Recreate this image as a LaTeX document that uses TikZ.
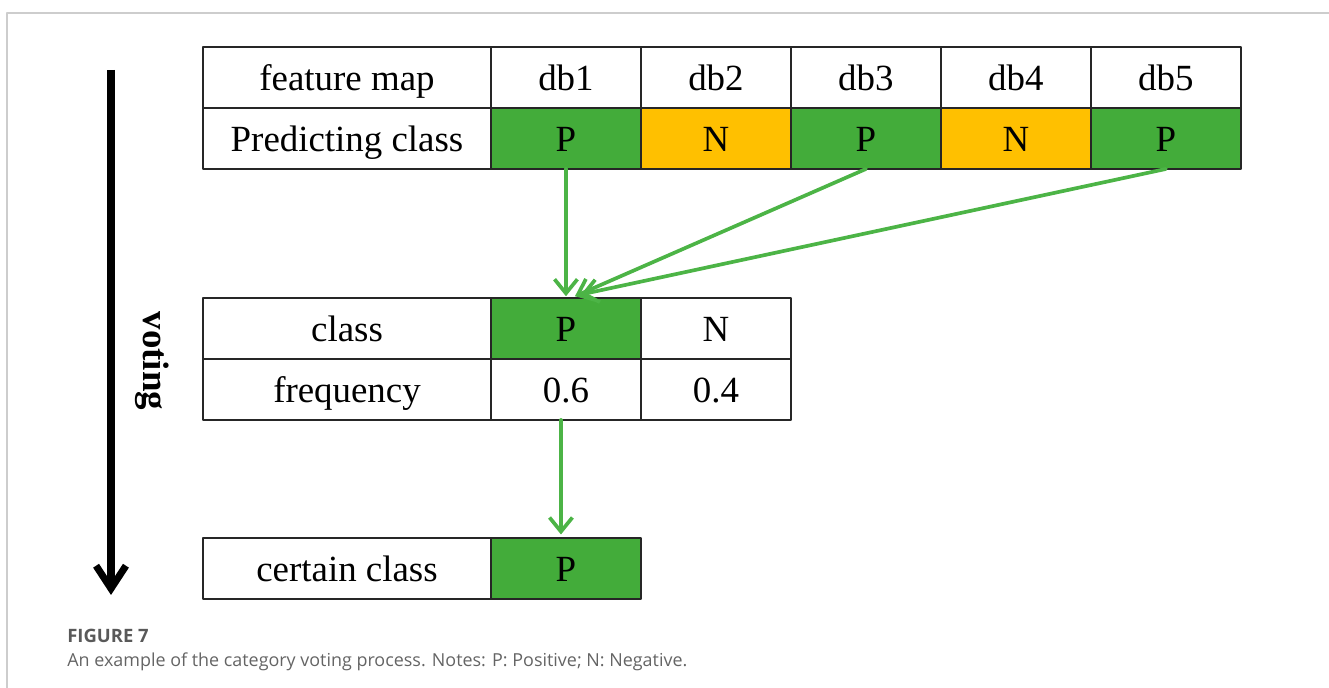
\documentclass[tikz,border=0pt]{standalone}
\usepackage{fontspec}
\setmainfont{Liberation Serif}
\newfontfamily\capfont{Open Sans}
\usetikzlibrary{arrows.meta, positioning}
\definecolor{cellgreen}{RGB}{67,172,58}
\definecolor{cellorange}{RGB}{255,192,0}
\definecolor{arrowgreen}{RGB}{76,180,70}
\definecolor{framegray}{RGB}{205,205,205}
\definecolor{capgray}{RGB}{100,100,100}
\begin{document}
\begin{tikzpicture}[x=0.02cm, y=-0.02cm, line join=round,
    cell/.style={draw=black!85, line width=1pt, minimum height=1.22cm, minimum width=3cm,
        inner sep=0pt, outer sep=0pt, text height=15pt, text depth=0pt,
        font=\fontsize{21}{25}\selectfont},
    head/.style={cell, minimum width=5.76cm},
    poscell/.style={cell, fill=cellgreen},
    negcell/.style={cell, fill=cellorange},
    vote/.style={arrowgreen, line width=2.1pt, line cap=round,
        -{Straight Barb[length=8pt, width=13pt, line width=2.1pt]}},
    captext/.style={anchor=west, text=capgray, inner sep=0pt}]
    \useasboundingbox (0,0) rectangle (1329,688);
    \draw[framegray, line width=0.9pt] (7,688) -- (7,13) -- (1329,13);

    % 特征图预测
    \node[head] (fm) at (347,77.5) {feature map};
    \node[cell, right=0pt of fm] (db1) {db1};
    \node[cell, right=0pt of db1] (db2) {db2};
    \node[cell, right=0pt of db2] (db3) {db3};
    \node[cell, right=0pt of db3] (db4) {db4};
    \node[cell, right=0pt of db4] (db5) {db5};
    \node[head, below=0pt of fm] (pc) {Predicting class};
    \node[poscell, below=0pt of db1] (p1) {P};
    \node[negcell, below=0pt of db2] (p2) {N};
    \node[poscell, below=0pt of db3] (p3) {P};
    \node[negcell, below=0pt of db4] (p4) {N};
    \node[poscell, below=0pt of db5] (p5) {P};

    % 投票统计
    \node[head] (cls) at (347,328.5) {class};
    \node[poscell, right=0pt of cls] (clsp) {P};
    \node[cell, right=0pt of clsp] (clsn) {N};
    \node[head, below=0pt of cls] (freq) {frequency};
    \node[cell, below=0pt of clsp] (fp) {0.6};
    \node[cell, below=0pt of clsn] (fn) {0.4};

    % 最终类别
    \node[head] (cc) at (347,568.5) {certain class};
    \node[poscell, right=0pt of cc] (ccp) {P};

    \draw[vote] (p1.south) -- ([yshift=1pt]clsp.north);
    \draw[vote] (p3.south) -- ([xshift=0.18cm, yshift=1pt]clsp.north);
    \draw[vote] (p5.south) -- ([xshift=0.3cm, yshift=2pt]clsp.north);
    \draw[vote] ([xshift=-0.1cm]fp.south) -- ([xshift=-0.1cm, yshift=2pt]ccp.north);

    % 投票方向
    \coordinate (vtop) at (111,70);
    \coordinate (vbot) at (111,595);
    \draw[line width=4pt, -{Straight Barb[length=13pt, width=17pt, line width=4pt]}] (vtop) -- (vbot);
    \node[rotate=-90, font=\fontsize{21}{25}\selectfont\bfseries] (vlab) at (152,361) {voting};

    % 图注
    \node[captext, text=black!65, font=\capfont\bfseries\fontsize{10.5}{12}\selectfont] (fig) at (67,636) {FIGURE 7};
    \node[captext, font=\capfont\fontsize{10.2}{12}\selectfont] (figtext) at (67,662)
        {An example of the category voting process. Notes: P: Positive; N: Negative.};
\end{tikzpicture}
\end{document}
